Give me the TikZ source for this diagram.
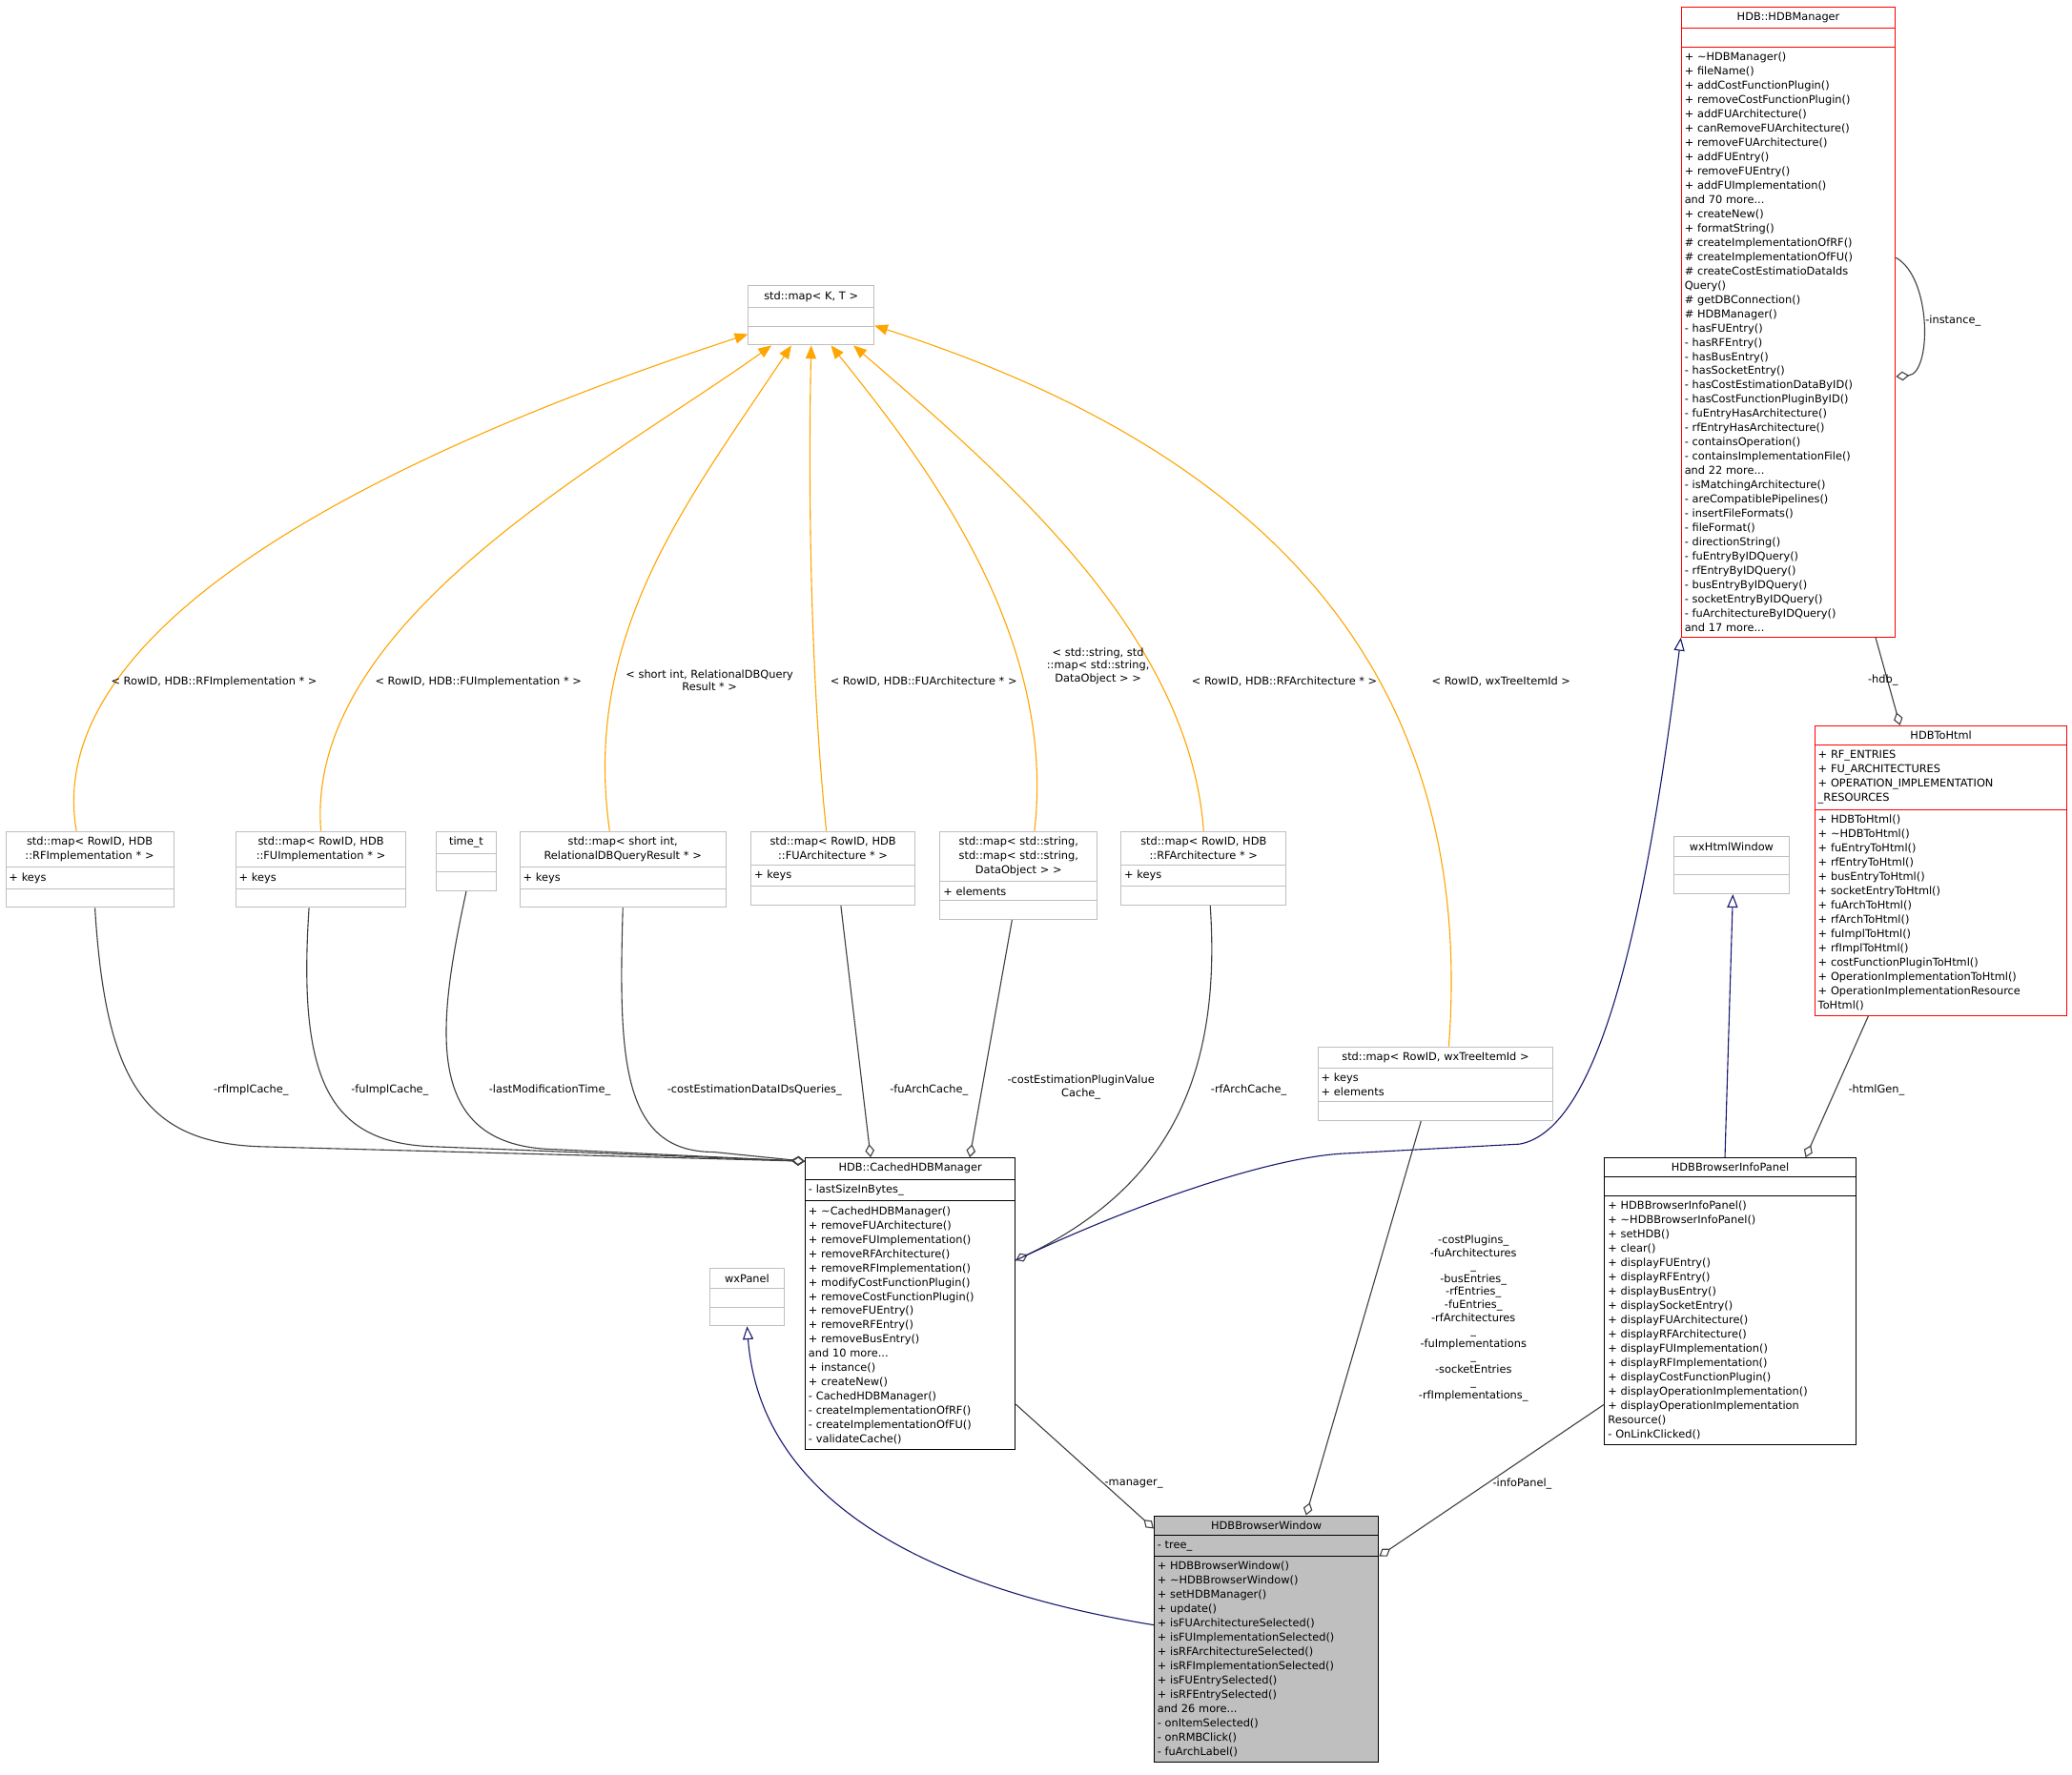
\documentclass[tikz,border=0pt]{standalone}
\usepackage{fontspec}
\setmainfont{DejaVu Sans}
\usetikzlibrary{shapes.multipart,arrows.meta}
\definecolor{navyc}{HTML}{191970}
\definecolor{orng}{HTML}{FFA500}
\definecolor{agg}{HTML}{404040}
\definecolor{gbord}{HTML}{BFBFBF}
\newcommand\T[1]{\makebox[\linewidth][c]{#1}}
\begin{document}
\begin{tikzpicture}[x=1pt,y=1pt,
  cls/.style={draw=black,rectangle split,rectangle split parts=3,anchor=north west,
    align=left,font=\fontsize{8.2}{10.8}\selectfont,inner xsep=2.5pt,inner ysep=3.8pt,line width=0.7pt},
  gcls/.style={cls,draw=gbord},
  rcls/.style={cls,draw=red},
  lab/.style={font=\fontsize{8.2}{9.8}\selectfont,align=center,inner sep=1pt},
  aggr/.style={draw=agg,line width=0.8pt,-{Diamond[open,length=10pt,width=7pt]}},
  gen/.style={draw=navyc,line width=0.8pt,-{Triangle[open,length=10pt,width=8pt]}},
  tmpl/.style={draw=orng,line width=0.8pt,-{Triangle[fill=orng,length=10pt,width=8pt]}}]
\useasboundingbox[fill=white] (0,0) rectangle (1568,-1343);
\newcommand\E{\phantom{X}}
% classes
\node[rcls,text width=157] (hdbm) at (1272,-5) {\T{HDB::HDBManager}
\nodepart{two}\E
\nodepart{three}+ \textasciitilde HDBManager()\\+ fileName()\\+ addCostFunctionPlugin()\\+ removeCostFunctionPlugin()\\+ addFUArchitecture()\\+ canRemoveFUArchitecture()\\+ removeFUArchitecture()\\+ addFUEntry()\\+ removeFUEntry()\\+ addFUImplementation()\\and 70 more...\\+ createNew()\\+ formatString()\\\# createImplementationOfRF()\\\# createImplementationOfFU()\\\# createCostEstimatioDataIds\\Query()\\\# getDBConnection()\\\# HDBManager()\\- hasFUEntry()\\- hasRFEntry()\\- hasBusEntry()\\- hasSocketEntry()\\- hasCostEstimationDataByID()\\- hasCostFunctionPluginByID()\\- fuEntryHasArchitecture()\\- rfEntryHasArchitecture()\\- containsOperation()\\- containsImplementationFile()\\and 22 more...\\- isMatchingArchitecture()\\- areCompatiblePipelines()\\- insertFileFormats()\\- fileFormat()\\- directionString()\\- fuEntryByIDQuery()\\- rfEntryByIDQuery()\\- busEntryByIDQuery()\\- socketEntryByIDQuery()\\- fuArchitectureByIDQuery()\\and 17 more...};
\node[gcls,text width=90] (kt) at (566,-216) {\T{std::map< K, T >}\nodepart{two}\E\nodepart{three}\E};
\node[gcls,text width=122] (rfi) at (4,-629) {\T{std::map< RowID, HDB}\\\T{::RFImplementation * >}\nodepart{two}+ keys\nodepart{three}\E};
\node[gcls,text width=124] (fui) at (178,-629) {\T{std::map< RowID, HDB}\\\T{::FUImplementation * >}\nodepart{two}+ keys\nodepart{three}\E};
\node[gcls,text width=40] (tt) at (330,-629) {\T{time\_t}\nodepart{two}\E\nodepart{three}\E};
\node[gcls,text width=151] (sim) at (393,-629) {\T{std::map< short int,}\\\T{RelationalDBQueryResult * >}\nodepart{two}+ keys\nodepart{three}\E};
\node[gcls,text width=119] (fua) at (568,-629) {\T{std::map< RowID, HDB}\\\T{::FUArchitecture * >}\nodepart{two}+ keys\nodepart{three}\E};
\node[gcls,text width=114] (sm) at (711,-629) {\T{std::map< std::string,}\\\T{std::map< std::string,}\\\T{DataObject > >}\nodepart{two}+ elements\nodepart{three}\E};
\node[gcls,text width=120] (rfa) at (848,-629) {\T{std::map< RowID, HDB}\\\T{::RFArchitecture * >}\nodepart{two}+ keys\nodepart{three}\E};
\node[gcls,text width=173] (wti) at (997,-792) {\T{std::map< RowID, wxTreeItemId >}\nodepart{two}+ keys\\+ elements\nodepart{three}\E};
\node[rcls,text width=186] (h2h) at (1373,-549) {\T{HDBToHtml}
\nodepart{two}+ RF\_ENTRIES\\+ FU\_ARCHITECTURES\\+ OPERATION\_IMPLEMENTATION\\\_RESOURCES
\nodepart{three}+ HDBToHtml()\\+ \textasciitilde HDBToHtml()\\+ fuEntryToHtml()\\+ rfEntryToHtml()\\+ busEntryToHtml()\\+ socketEntryToHtml()\\+ fuArchToHtml()\\+ rfArchToHtml()\\+ fuImplToHtml()\\+ rfImplToHtml()\\+ costFunctionPluginToHtml()\\+ OperationImplementationToHtml()\\+ OperationImplementationResource\\ToHtml()};
\node[gcls,text width=83] (wxh) at (1266,-633) {\T{wxHtmlWindow}\nodepart{two}\E\nodepart{three}\E};
\node[cls,text width=154] (chm) at (609,-876) {\T{HDB::CachedHDBManager}
\nodepart{two}- lastSizeInBytes\_
\nodepart{three}+ \textasciitilde CachedHDBManager()\\+ removeFUArchitecture()\\+ removeFUImplementation()\\+ removeRFArchitecture()\\+ removeRFImplementation()\\+ modifyCostFunctionPlugin()\\+ removeCostFunctionPlugin()\\+ removeFUEntry()\\+ removeRFEntry()\\+ removeBusEntry()\\and 10 more...\\+ instance()\\+ createNew()\\- CachedHDBManager()\\- createImplementationOfRF()\\- createImplementationOfFU()\\- validateCache()};
\node[cls,text width=185] (hip) at (1214,-876) {\T{HDBBrowserInfoPanel}
\nodepart{two}\E
\nodepart{three}+ HDBBrowserInfoPanel()\\+ \textasciitilde HDBBrowserInfoPanel()\\+ setHDB()\\+ clear()\\+ displayFUEntry()\\+ displayRFEntry()\\+ displayBusEntry()\\+ displaySocketEntry()\\+ displayFUArchitecture()\\+ displayRFArchitecture()\\+ displayFUImplementation()\\+ displayRFImplementation()\\+ displayCostFunctionPlugin()\\+ displayOperationImplementation()\\+ displayOperationImplementation\\Resource()\\- OnLinkClicked()};
\node[gcls,text width=51] (wxp) at (537,-960) {\T{wxPanel}\nodepart{two}\E\nodepart{three}\E};
\node[cls,fill=gbord,text width=165] (hbw) at (873,-1147) {\T{HDBBrowserWindow}
\nodepart{two}- tree\_
\nodepart{three}+ HDBBrowserWindow()\\+ \textasciitilde HDBBrowserWindow()\\+ setHDBManager()\\+ update()\\+ isFUArchitectureSelected()\\+ isFUImplementationSelected()\\+ isRFArchitectureSelected()\\+ isRFImplementationSelected()\\+ isFUEntrySelected()\\+ isRFEntrySelected()\\and 26 more...\\- onItemSelected()\\- onRMBClick()\\- fuArchLabel()};
% template edges
\coordinate (ktL) at (566,-253);
\draw[tmpl] (rfi.north) ++(-10,0) .. controls (30,-470) and (300,-340) .. (ktL);
\draw[tmpl] (fui.north) ++(0,0) .. controls (230,-470) and (460,-350) .. ([xshift=-30]kt.south);
\draw[tmpl] (sim.north) ++(-10,0) .. controls (440,-480) and (520,-380) .. ([xshift=-15]kt.south);
\draw[tmpl] (fua.north) ++(-5,0) .. controls (612,-500) and (612,-350) .. (kt.south);
\draw[tmpl] (sm.north) ++(12,0) .. controls (800,-480) and (700,-350) .. ([xshift=15]kt.south);
\draw[tmpl] (rfa.north) .. controls (900,-480) and (760,-360) .. ([xshift=32]kt.south);
\draw[tmpl] (wti.north) ++(10,0) .. controls (1120,-480) and (920,-330) .. ([yshift=15]kt.south east);
\node[lab] (l1) at (162,-516) {< RowID, HDB::RFImplementation * >};
\node[lab] (l2) at (362,-516) {< RowID, HDB::FUImplementation * >};
\node[lab] (l3) at (537,-515) {< short int, RelationalDBQuery\\Result * >};
\node[lab] (l4) at (699,-516) {< RowID, HDB::FUArchitecture * >};
\node[lab] (l5) at (831,-504) {< std::string, std\\::map< std::string,\\DataObject > >};
\node[lab] (l6) at (972,-516) {< RowID, HDB::RFArchitecture * >};
\node[lab] (l7) at (1136,-516) {< RowID, wxTreeItemId >};
% aggregation to cached
\coordinate (cc) at ([yshift=-3]chm.north west);
\draw[aggr] ([xshift=4]rfi.south) .. controls (80,-820) and (110,-866) .. (200,-868) -- (cc);
\draw[aggr] ([xshift=-9]fui.south) .. controls (225,-820) and (250,-866) .. (330,-868) -- (cc);
\draw[aggr] (tt.south) .. controls (330,-780) and (320,-868) .. (420,-870) -- (cc);
\draw[aggr] (sim.south) .. controls (468,-800) and (470,-872) .. (540,-872) -- (cc);
\draw[aggr] ([xshift=6]fua.south) -- ([xshift=-30]chm.north);
\draw[aggr] ([xshift=-5]sm.south) -- ([xshift=45]chm.north);
\coordinate (cr) at ([yshift=-78]chm.north east);
\draw[aggr] ([xshift=5]rfa.south) .. controls (925,-820) and (880,-900) .. (cr);
\node[lab] at (190,-825) {-rfImplCache\_};
\node[lab] at (295,-825) {-fuImplCache\_};
\node[lab] at (416,-825) {-lastModificationTime\_};
\node[lab] at (571,-825) {-costEstimationDataIDsQueries\_};
\node[lab] at (703,-825) {-fuArchCache\_};
\node[lab] at (818,-823) {-costEstimationPluginValue\\Cache\_};
\node[lab] at (945,-825) {-rfArchCache\_};
% generalization
\draw[gen] (cr) .. controls (850,-915) and (960,-875) .. (1020,-873) -- (1150,-866) .. controls (1210,-855) and (1245,-700) .. ([xshift=0]hdbm.south west);
\draw[gen] ([xshift=-4]hip.north) -- ([xshift=1]wxh.south);
\draw[gen] ([yshift=-83]hbw.north west) .. controls (690,-1200) and (575,-1130) .. (wxp.south);
% other aggregations
\draw[aggr] ([yshift=-190]hdbm.north east) .. controls (1462,-210) and (1462,-283) .. ([yshift=-280]hdbm.north east);
\node[lab] at (1478,-243) {-instance\_};
\draw[aggr] ([xshift=66]hdbm.south) -- ([xshift=-31]h2h.north);
\node[lab] at (1425,-515) {-hdb\_};
\draw[aggr] ([xshift=-55]h2h.south) -- ([xshift=57]hip.north);
\node[lab] at (1420,-825) {-htmlGen\_};
\draw[aggr] ([yshift=-187]chm.north east) -- ([yshift=-10]hbw.north west);
\node[lab] at (858,-1123) {-manager\_};
\draw[aggr] ([xshift=-11]wti.south) -- ([xshift=30]hbw.north);
\node[lab,align=center] at (1115,-998) {-costPlugins\_\\-fuArchitectures\\\_\\-busEntries\_\\-rfEntries\_\\-fuEntries\_\\-rfArchitectures\\\_\\-fuImplementations\\\_\\-socketEntries\\\_\\-rfImplementations\_};
\draw[aggr] ([yshift=-187]hip.north west) -- ([yshift=-31]hbw.north east);
\node[lab] at (1152,-1123) {-infoPanel\_};
\end{tikzpicture}
\end{document}
